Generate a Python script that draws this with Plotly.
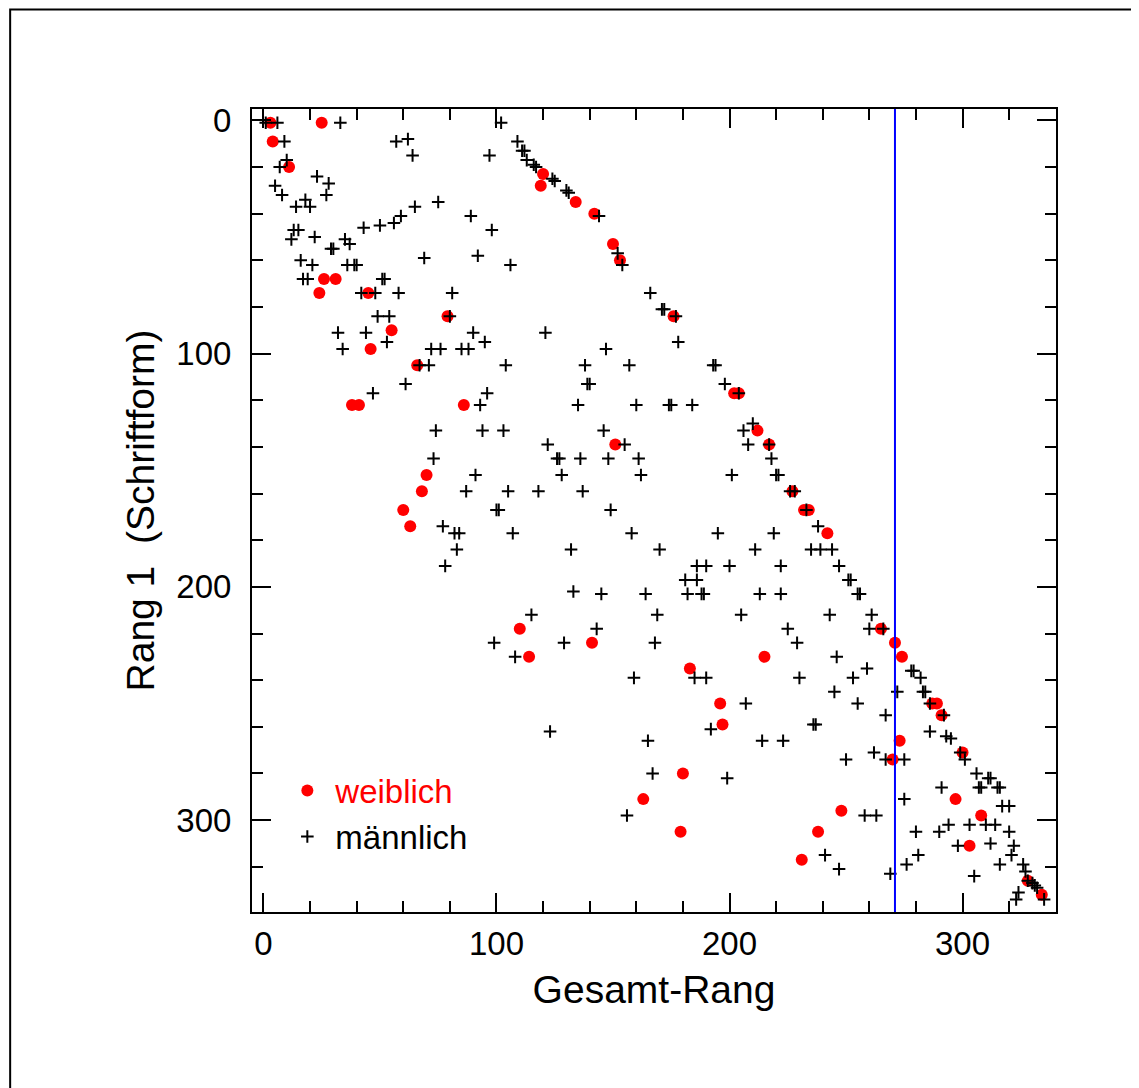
import plotly.graph_objects as go

# ---------------- data ----------------
weiblich_x = [3, 25, 4, 11, 26, 31, 24, 45, 79, 55, 46, 66,
              38, 41, 86, 70, 68, 60, 63, 110,
              120, 119, 134, 142, 150, 153, 176,
              202, 204, 212, 151, 217,
              227, 232, 234, 242, 265, 271,
              114, 141, 215, 183, 196, 197, 180, 163, 179,
              274, 287, 289, 291, 273, 300, 270, 297, 248, 308, 238, 303, 231, 328, 334]
weiblich_y = [1, 1, 9, 20, 68, 68, 74, 74, 84, 90, 98, 105,
              122, 122, 122, 152, 159, 167, 174, 218,
              23, 28, 35, 40, 53, 60, 84,
              117, 117, 133, 139, 139,
              159, 167, 167, 177, 218, 224,
              230, 224, 230, 235, 250, 259, 280, 291, 305,
              230, 250, 250, 255, 266, 271, 274, 291, 296, 298, 305, 311, 317, 326, 332]

maennlich_pts = [
    (1, 1), (6, 1), (33, 1), (102, 1),
    (9, 9), (57, 9), (62, 8), (64, 15), (97, 15), (109, 9),
    (10, 17), (7, 20), (23, 24), (28, 27), (5, 28), (27, 32), (8, 32), (18, 34), (14, 37), (20, 37),
    (65, 37), (75, 35), (89, 41), (59, 41), (56, 44), (50, 45), (43, 46), (98, 47), (13, 47), (15, 47),
    (12, 51), (22, 50), (35, 51), (37, 53), (29, 55), (30, 55), (16, 60), (21, 62), (69, 59), (92, 58),
    (106, 62), (36, 62), (39, 62), (40, 62), (17, 68), (19, 68), (51, 68), (52, 68), (42, 74), (48, 74),
    (58, 74), (81, 74), (80, 84), (49, 84), (54, 84), (32, 91), (44, 91), (90, 91), (95, 95), (53, 95),
    (34, 98), (72, 98), (76, 98), (85, 98), (88, 98), (67, 105), (71, 105), (104, 105),
    (111, 13), (112, 13), (113, 17), (116, 19), (117, 20), (124, 25), (125, 26), (130, 30), (131, 31),
    (144, 41), (152, 57), (154, 62), (166, 74), (171, 81), (172, 81), (177, 84), (121, 91), (178, 95),
    (147, 98), (138, 105), (157, 105), (193, 105), (194, 105),
    (61, 113), (47, 117), (96, 117), (93, 122), (74, 133), (94, 133), (103, 133), (73, 145), (91, 152),
    (87, 159), (105, 159), (100, 167), (101, 167), (77, 174), (82, 177), (84, 177), (107, 177), (83, 184),
    (78, 191),
    (139, 113), (140, 113), (198, 113), (204, 117), (135, 122), (160, 122), (174, 122), (175, 122),
    (184, 122), (210, 130), (206, 133), (146, 133), (122, 139), (155, 139), (208, 139), (217, 139),
    (126, 145), (127, 145), (136, 145), (148, 145), (161, 145), (218, 145), (128, 152), (162, 152),
    (201, 152), (220, 152), (221, 152), (118, 159), (137, 159), (149, 167), (158, 177), (195, 177),
    (219, 177), (132, 184), (170, 184), (211, 184), (186, 191), (190, 191), (200, 191), (222, 191),
    (181, 197), (186, 197), (133, 202), (145, 203), (164, 203), (182, 203), (188, 203), (189, 203),
    (213, 203), (222, 203), (115, 212), (169, 212), (205, 212), (143, 218),
    (226, 159), (228, 159), (233, 167), (238, 174), (235, 184), (239, 184), (244, 184), (247, 191),
    (251, 197), (252, 197), (255, 203), (256, 203), (243, 212), (261, 212), (225, 218), (260, 218),
    (266, 218),
    (99, 224), (108, 230), (129, 224), (168, 224), (159, 239), (185, 239), (190, 239), (207, 250),
    (192, 261), (123, 262), (165, 266), (214, 266), (223, 266), (167, 280), (199, 282), (156, 298),
    (229, 224), (246, 230), (259, 235), (278, 236), (279, 236), (282, 239), (230, 239), (253, 239),
    (272, 245), (283, 245), (284, 245), (245, 245), (255, 250), (286, 250), (292, 255), (267, 255),
    (236, 259), (237, 259), (286, 262), (293, 264), (295, 265), (262, 271), (299, 271), (301, 274),
    (267, 274), (275, 274), (250, 274), (306, 280), (311, 282), (312, 282), (307, 286), (308, 286),
    (315, 286), (316, 286), (291, 286), (275, 291), (317, 294), (320, 294), (258, 298), (263, 298),
    (294, 302), (303, 302), (310, 302), (314, 302), (280, 305), (290, 305), (320, 305), (312, 310),
    (322, 311), (298, 311), (241, 315), (281, 315), (321, 315), (276, 319), (316, 319), (326, 319),
    (247, 321), (269, 323), (305, 324), (327, 322), (328, 326), (330, 327), (331, 328), (332, 329),
    (324, 331), (323, 334), (335, 334),
]
maennlich_x = [p[0] for p in maennlich_pts]
maennlich_y = [p[1] for p in maennlich_pts]

grenze_x = 271  # vertical reference line

x_tickvals = [0, 100, 200, 300]
y_tickvals = [0, 100, 200, 300]

# ---------------- figure ----------------
FONT = "Liberation Sans, Arial, Helvetica, sans-serif"

fig = go.Figure()
fig.add_trace(go.Scatter(
    x=weiblich_x, y=weiblich_y, mode="markers",
    name='<span style="color:#ff0000">weiblich</span>',
    marker=dict(symbol="circle", size=12, color="#ff0000", line=dict(width=0)),
))
fig.add_trace(go.Scatter(
    x=maennlich_x, y=maennlich_y, mode="markers",
    name="männlich",
    marker=dict(symbol="cross-thin", size=9, color="black",
                line=dict(width=2, color="black")),
))

fig.add_vline(x=grenze_x, line=dict(color="#0000ff", width=2))

axis_common = dict(
    showline=True, linecolor="black", linewidth=2, mirror="allticks",
    ticks="inside", ticklen=19, tickwidth=2, tickcolor="black",
    minor=dict(ticks="inside", ticklen=11, tickwidth=2, tickcolor="black", dtick=20),
    showgrid=False, zeroline=False,
    tickfont=dict(size=33, color="black", family=FONT),
)

fig.update_xaxes(range=[-4.9, 340.1], tickvals=x_tickvals, ticklabelstandoff=1,
                 title=dict(text="Gesamt-Rang", font=dict(size=39, color="black", family=FONT),
                            standoff=15),
                 **axis_common)
fig.update_yaxes(range=[339.4, -4.9], tickvals=y_tickvals, ticklabelstandoff=12,
                 title=dict(text="Rang 1\u00a0 (Schriftform)",
                            font=dict(size=39, color="black", family=FONT), standoff=10),
                 **axis_common)

# outer frame
fig.add_shape(type="rect", xref="paper", yref="paper",
              x0=-0.3008, x1=1.1001, y0=-0.25, y1=1.1238,
              line=dict(color="black", width=2), fillcolor="rgba(0,0,0,0)", layer="below")

fig.update_layout(
    width=1131, height=1080,
    margin=dict(l=244, r=82.5, t=100.5, b=176, autoexpand=False),
    paper_bgcolor="white", plot_bgcolor="white",
    font=dict(family=FONT, color="black"),
    showlegend=True,
    legend=dict(x=0.034, y=0.186, xanchor="left", yanchor="top",
                bgcolor="rgba(0,0,0,0)", borderwidth=0,
                font=dict(size=33, color="black", family=FONT),
                itemwidth=46),
)

fig.write_html("out.html")
